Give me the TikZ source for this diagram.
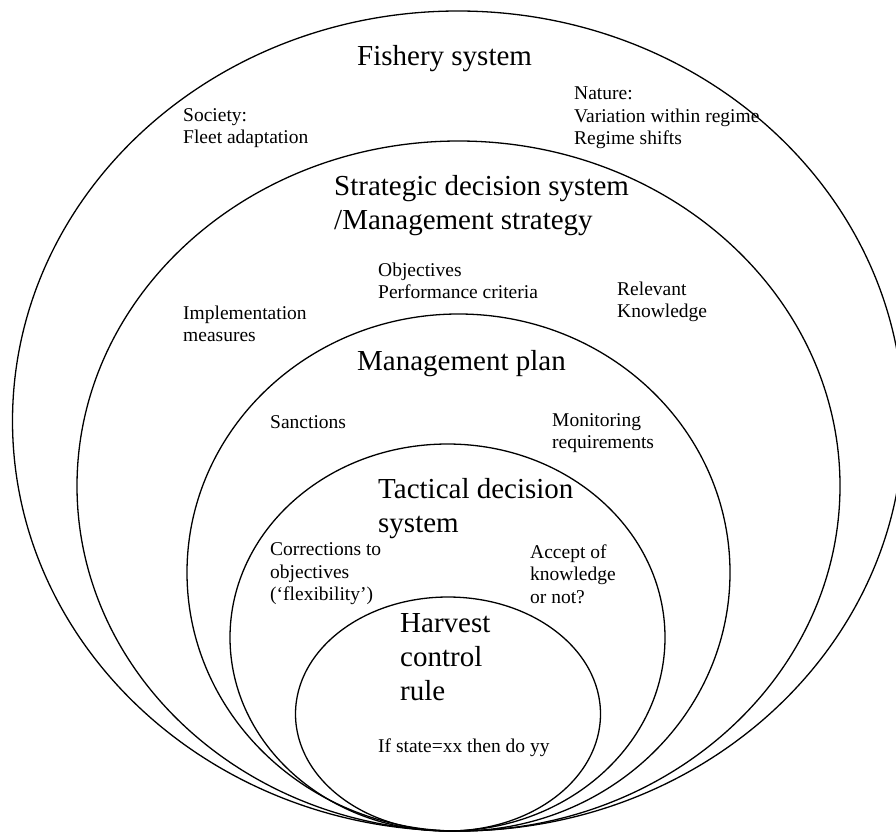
\documentclass[tikz,border=0pt]{standalone}
\usepackage{fontspec}
\setmainfont{Liberation Serif}
\tikzset{
  ring/.style={line width=1.3pt},
  big/.style={font=\fontsize{29}{34}\selectfont, align=left, anchor=west, inner sep=0pt},
  note/.style={font=\fontsize{19.5}{22.5}\selectfont, align=left, anchor=west, inner sep=0pt},
}
\begin{document}
\begin{tikzpicture}[x=1pt,y=-1pt]
  \useasboundingbox (0,0) rectangle (896,835);
  % nested ellipses, all touching at the bottom
  \draw[ring] (458,421) ellipse [x radius=445.5pt, y radius=410pt];
  \draw[ring] (458.5,486) ellipse [x radius=381.5pt, y radius=345pt];
  \draw[ring] (458.5,572.5) ellipse [x radius=271.5pt, y radius=258.5pt];
  \draw[ring] (447.5,637.5) ellipse [x radius=217.5pt, y radius=193.5pt];
  \draw[ring] (448,714) ellipse [x radius=152.5pt, y radius=117pt];
  % fishery system
  \node[big] (fish) at (357,59) {Fishery system};
  \node[note] (soc) at (183,128) {Society:\\Fleet adaptation};
  \node[note] (nat) at (574,118) {Nature:\\Variation within regime\\Regime shifts};
  % strategic decision system
  \node[big] (strat) at (334,206) {Strategic decision system\\/Management strategy};
  \node[note] (obj) at (378,281) {Objectives\\Performance criteria};
  \node[note] (know) at (617,302) {Relevant\\Knowledge};
  \node[note] (impl) at (183,324) {Implementation\\measures};
  % management plan
  \node[big] (plan) at (357,364) {Management plan};
  \node[note] (sanc) at (270,422) {Sanctions};
  \node[note] (mon) at (552,433) {Monitoring\\requirements};
  % tactical decision system
  \node[big] (tact) at (378,509) {Tactical decision\\system};
  \node[note] (corr) at (270,574) {Corrections to\\objectives\\(‘flexibility’)};
  \node[note] (acc) at (530,574) {Accept of\\knowledge\\or not?};
  % harvest control rule
  \node[big] (hcr) at (400,657) {Harvest\\control\\rule};
  \node[note] (rule) at (378,748) {If state=xx then do yy};
\end{tikzpicture}
\end{document}
